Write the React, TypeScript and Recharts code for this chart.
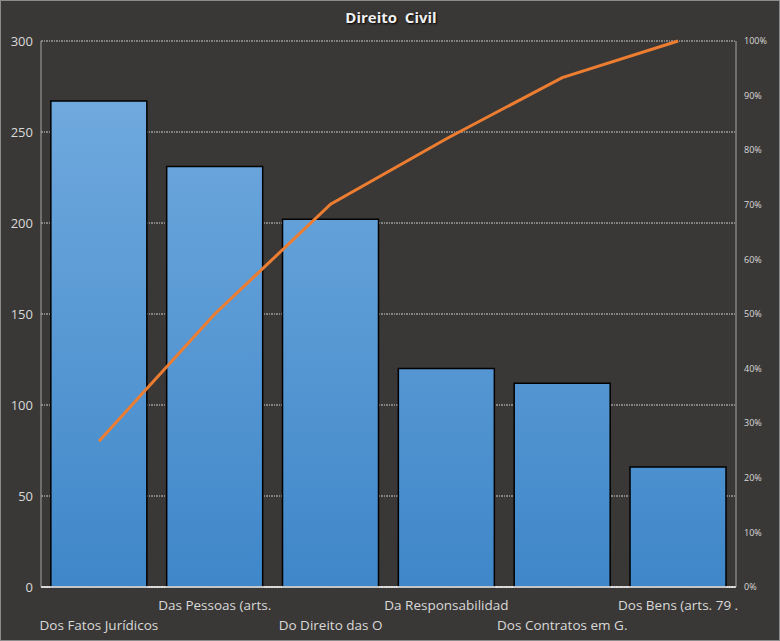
import React from "react";
import { ComposedChart, Bar, Line, XAxis, YAxis, CartesianGrid } from "recharts";

const categories = [
  "Dos Fatos Jurídicos",
  "Das Pessoas (arts.",
  "Do Direito das O",
  "Da Responsabilidad",
  "Dos Contratos em G.",
  "Dos Bens (arts. 79 .",
];
const counts = [267, 231, 202, 120, 112, 66];
const cumulativePct = [26.7, 50, 70.1, 82.1, 93.3, 100];
const leftTicks = [0, 50, 100, 150, 200, 250, 300];
const rightTicks = [0, 10, 20, 30, 40, 50, 60, 70, 80, 90, 100];

const data = categories.map((name, i) => ({ name, count: counts[i], pct: cumulativePct[i] }));

const FONT = "'Open Sans', 'Noto Sans', sans-serif";
const TEXT = "#D9D9D9";

const CatTick = (props: any) => {
  const { x, y, payload, index } = props;
  const row = index % 2 === 1 ? 0 : 1;
  return (
    <text
      x={x}
      y={y + 23 + row * 20}
      textAnchor="middle"
      fill={TEXT}
      fontSize={13.5}
      fontFamily={FONT}
    >
      {payload.value}
    </text>
  );
};

export default function App() {
  return (
    <div
      style={{
        position: "absolute",
        left: 0,
        top: 0,
        width: 780,
        height: 641,
        background: "#3A3836",
        boxSizing: "border-box",
        border: "1px solid #8C8C8C",
      }}
    >
      <div
        style={{
          position: "absolute",
          left: 0,
          top: 6,
          width: 780,
          textAlign: "center",
          color: "#F0F0F0",
          fontFamily: FONT,
          fontWeight: 700,
          fontSize: 15,
          whiteSpace: "pre",
          textShadow: "1px 1px 2px #000",
        }}
      >
        {"Direito  Civil"}
      </div>
      <div style={{ position: "absolute", left: -1, top: -1 }}>
        <ComposedChart
          width={780}
          height={641}
          data={data}
          margin={{ top: 41, right: 0, bottom: 0, left: 0 }}
          barCategoryGap="8.5%"
        >
          <defs>
            <linearGradient id="barGrad" gradientUnits="userSpaceOnUse" x1="0" y1="41" x2="0" y2="587">
              <stop offset="0%" stopColor="#75ADE0" />
              <stop offset="100%" stopColor="#3F87C9" />
            </linearGradient>
          </defs>
          <CartesianGrid
            vertical={false}
            stroke="#CFCFCF"
            strokeDasharray="2 1 1 1"
            strokeWidth={1}
          />
          <XAxis
            dataKey="name"
            height={54}
            tickLine={false}
            tickSize={0}
            tickMargin={0}
            axisLine={{ stroke: "#FFFFFF", strokeWidth: 1.5 }}
            tick={<CatTick />}
            interval={0}
          />
          <YAxis
            yAxisId={0}
            width={41}
            domain={[0, 300]}
            ticks={leftTicks}
            tickLine={false}
            axisLine={{ stroke: "#A6A6A6" }}
            tick={{ fill: TEXT, fontSize: 13, fontFamily: FONT }}
          />
          <YAxis
            yAxisId="right"
            orientation="right"
            width={44}
            domain={[0, 100]}
            ticks={rightTicks}
            tickLine={false}
            axisLine={{ stroke: "#A6A6A6" }}
            tickFormatter={(v: number) => `${v}%`}
            tick={{ fill: TEXT, fontSize: 9, fontFamily: FONT, textAnchor: "start" }}
          />
          <Bar
            yAxisId={0}
            dataKey="count"
            fill="url(#barGrad)"
            stroke="#000000"
            strokeWidth={1.5}
            isAnimationActive={false}
          />
          <Line
            yAxisId="right"
            dataKey="pct"
            type="linear"
            stroke="#ED7D31"
            strokeWidth={3}
            dot={false}
            activeDot={false}
            isAnimationActive={false}
          />
        </ComposedChart>
      </div>
    </div>
  );
}
